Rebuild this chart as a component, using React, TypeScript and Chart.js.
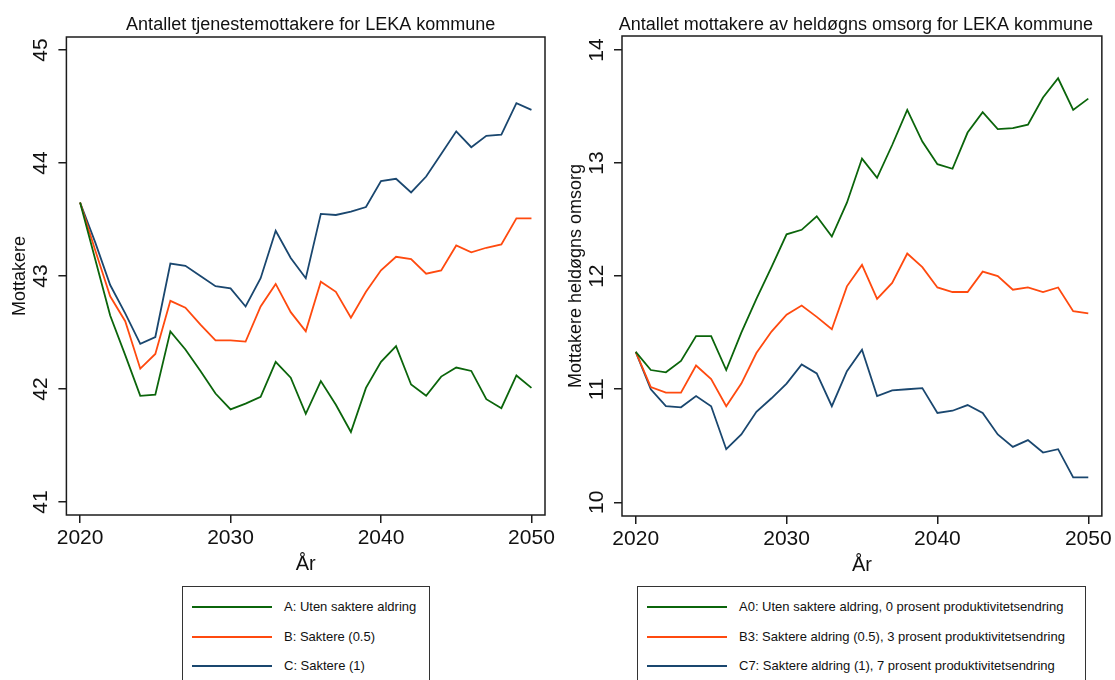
import React, { useEffect, useRef } from "react";
import { Chart, registerables } from "chart.js";

Chart.register(...registerables);

const FONT = "'Liberation Sans', Arial, Helvetica, sans-serif";

// ---------- data ----------
const years = [
  2020, 2021, 2022, 2023, 2024, 2025, 2026, 2027, 2028, 2029, 2030,
  2031, 2032, 2033, 2034, 2035, 2036, 2037, 2038, 2039, 2040,
  2041, 2042, 2043, 2044, 2045, 2046, 2047, 2048, 2049, 2050,
];
const xTicks = [2020, 2030, 2040, 2050];

// Left panel: Antallet tjenestemottakere
const leftYTicks = [41, 42, 43, 44, 45];
const seriesA = [
  43.65, 43.15, 42.65, 42.30, 41.94, 41.95, 42.51, 42.35, 42.16, 41.96, 41.82,
  41.87, 41.93, 42.24, 42.10, 41.78, 42.07, 41.86, 41.62, 42.01, 42.24,
  42.38, 42.04, 41.94, 42.11, 42.19, 42.16, 41.91, 41.83, 42.12, 42.01,
];
const seriesB = [
  43.65, 43.23, 42.82, 42.60, 42.18, 42.31, 42.78, 42.72, 42.57, 42.43, 42.43,
  42.42, 42.73, 42.93, 42.68, 42.51, 42.95, 42.86, 42.63, 42.86, 43.05,
  43.17, 43.15, 43.02, 43.05, 43.27, 43.21, 43.25, 43.28, 43.51, 43.51,
];
const seriesC = [
  43.65, 43.30, 42.92, 42.67, 42.40, 42.46, 43.11, 43.09, 43.00, 42.91, 42.89,
  42.73, 42.98, 43.40, 43.16, 42.98, 43.55, 43.54, 43.57, 43.61, 43.84,
  43.86, 43.74, 43.88, 44.08, 44.28, 44.14, 44.24, 44.25, 44.53, 44.47,
];
const leftLabels = ["A: Uten saktere aldring", "B: Saktere (0.5)", "C: Saktere (1)"];

// Right panel: heldøgns omsorg
const rightYTicks = [10, 11, 12, 13, 14];
const seriesA0 = [
  11.33, 11.17, 11.15, 11.25, 11.47, 11.47, 11.17, 11.50, 11.80, 12.08, 12.37,
  12.41, 12.53, 12.35, 12.65, 13.04, 12.87, 13.16, 13.47, 13.19, 12.99,
  12.95, 13.27, 13.45, 13.30, 13.31, 13.34, 13.58, 13.75, 13.47, 13.57,
];
const seriesB3 = [
  11.33, 11.02, 10.97, 10.97, 11.21, 11.09, 10.85, 11.05, 11.32, 11.51, 11.66,
  11.74, 11.64, 11.53, 11.91, 12.10, 11.80, 11.94, 12.20, 12.08, 11.90,
  11.86, 11.86, 12.04, 12.00, 11.88, 11.90, 11.86, 11.90, 11.69, 11.67,
];
const seriesC7 = [
  11.33, 11.00, 10.85, 10.84, 10.94, 10.85, 10.47, 10.60, 10.80, 10.92, 11.05,
  11.22, 11.14, 10.85, 11.16, 11.35, 10.94, 10.99, 11.00, 11.01, 10.79,
  10.81, 10.86, 10.79, 10.60, 10.49, 10.55, 10.44, 10.47, 10.22, 10.22,
];
const rightLabels = [
  "A0: Uten saktere aldring, 0 prosent produktivitetsendring",
  "B3: Saktere aldring (0.5), 3 prosent produktivitetsendring",
  "C7: Saktere aldring (1), 7 prosent produktivitetsendring",
];

const colors = ["#0b650b", "#ff4a0f", "#1a476f"];

// ---------- plugin: plot box, rotated y tick labels, title ----------
const decorPlugin = {
  id: "stataDecor",
  afterDraw(chart: any, _args: any, opts: any) {
    const { ctx, chartArea: a } = chart;
    ctx.save();
    ctx.strokeStyle = "#1c1c1c";
    ctx.lineWidth = 1.5;
    ctx.strokeRect(a.left, a.top, a.right - a.left, a.bottom - a.top);

    const ys = chart.scales.y;
    ctx.fillStyle = "#111";
    ctx.font = `21px ${FONT}`;
    ctx.textAlign = "center";
    ctx.textBaseline = "alphabetic";
    ys.ticks.forEach((t: any) => {
      const py = ys.getPixelForValue(t.value);
      ctx.save();
      ctx.translate(a.left - 19, py);
      ctx.rotate(-Math.PI / 2);
      ctx.fillText(String(t.value), 0, 0);
      ctx.restore();
    });

    ctx.font = `18px ${FONT}`;
    ctx.fillText(opts.title, (a.left + a.right) / 2 + opts.titleDx, opts.titleY);
    ctx.restore();
  },
};

type PanelProps = {
  left: number;
  width: number;
  height: number;
  padding: { top: number; right: number; bottom: number; left: number };
  yMin: number;
  yMax: number;
  yTicks: number[];
  series: number[][];
  labels: string[];
  yTitle: string;
  yTitlePad: { top: number; bottom: number };
  title: string;
  titleDx: number;
};

function Panel(p: PanelProps) {
  const ref = useRef<HTMLCanvasElement>(null);
  useEffect(() => {
    if (!ref.current) return;
    const chart = new Chart(ref.current, {
      type: "line",
      data: {
        datasets: p.series.map((s, i) => ({
          label: p.labels[i],
          data: years.map((x, j) => ({ x, y: s[j] })),
          borderColor: colors[i],
          backgroundColor: colors[i],
          borderWidth: 1.8,
          pointRadius: 0,
          tension: 0,
        })),
      },
      options: {
        responsive: false,
        animation: false,
        layout: { padding: p.padding },
        plugins: {
          legend: { display: false },
          title: { display: false },
          tooltip: { enabled: false },
          stataDecor: { title: p.title, titleDx: p.titleDx, titleY: 30 },
        } as any,
        scales: {
          x: {
            type: "linear",
            min: 2019.09,
            max: 2050.9,
            afterBuildTicks: (scale: any) => {
              scale.ticks = xTicks.map((v) => ({ value: v }));
            },
            border: { display: false },
            grid: {
              display: true,
              drawOnChartArea: false,
              drawTicks: true,
              tickLength: 8,
              color: "#1c1c1c",
              lineWidth: 1.5,
            },
            ticks: {
              color: "#111",
              font: { family: FONT, size: 21, lineHeight: 1.2 },
              padding: 3,
              maxRotation: 0,
              minRotation: 0,
              callback: (v: any) => String(v),
            },
            title: {
              display: true,
              text: "År",
              color: "#111",
              font: { family: FONT, size: 20, lineHeight: 1 },
              padding: { top: 0, bottom: 3 },
            },
          },
          y: {
            type: "linear",
            min: p.yMin,
            max: p.yMax,
            afterBuildTicks: (scale: any) => {
              scale.ticks = p.yTicks.map((v) => ({ value: v }));
            },
            border: { display: false },
            grid: {
              display: true,
              drawOnChartArea: false,
              drawTicks: true,
              tickLength: 8,
              color: "#1c1c1c",
              lineWidth: 1.5,
            },
            ticks: { display: false },
            title: {
              display: true,
              text: p.yTitle,
              color: "#111",
              font: { family: FONT, size: 18, lineHeight: 1.2 },
              padding: p.yTitlePad,
            },
          },
        },
      },
      plugins: [decorPlugin],
    });
    return () => chart.destroy();
  }, []);
  return (
    <canvas
      ref={ref}
      width={p.width}
      height={p.height}
      style={{ position: "absolute", left: p.left, top: 0, width: p.width, height: p.height }}
    />
  );
}

function Legend(props: { left: number; width: number; lineLeft: number; textLeft: number; labels: string[] }) {
  const rowY = [20, 50, 79];
  return (
    <div
      style={{
        position: "absolute",
        left: props.left,
        top: 586,
        width: props.width,
        height: 130,
        border: "1px solid #333",
        boxSizing: "border-box",
        background: "#fff",
        fontFamily: FONT,
        fontSize: 13,
        color: "#111",
      }}
    >
      {props.labels.map((lab, i) => (
        <React.Fragment key={i}>
          <div
            style={{
              position: "absolute",
              left: props.lineLeft,
              top: rowY[i] - 1,
              width: 80,
              height: 2,
              background: colors[i],
            }}
          />
          <div
            style={{
              position: "absolute",
              left: props.textLeft,
              top: rowY[i] - 9,
              lineHeight: "18px",
              whiteSpace: "nowrap",
            }}
          >
            {lab}
          </div>
        </React.Fragment>
      ))}
    </div>
  );
}

export default function App() {
  return (
    <div
      style={{
        position: "fixed",
        left: 0,
        top: 0,
        width: 1115,
        height: 680,
        overflow: "hidden",
        background: "#fff",
      }}
    >
      <Panel
        left={0}
        width={560}
        height={600}
        padding={{ top: 37, right: 15, bottom: 22.8, left: 0 }}
        yMin={40.885}
        yMax={45.115}
        yTicks={leftYTicks}
        series={[seriesA, seriesB, seriesC]}
        labels={leftLabels}
        yTitle="Mottakere"
        yTitlePad={{ top: 9.4, bottom: 27.4 }}
        title="Antallet tjenestemottakere for LEKA kommune"
        titleDx={5}
      />
      <Panel
        left={560}
        width={555}
        height={600}
        padding={{ top: 36, right: 13, bottom: 21.8, left: 0 }}
        yMin={9.879}
        yMax={14.124}
        yTicks={rightYTicks}
        series={[seriesA0, seriesB3, seriesC7]}
        labels={rightLabels}
        yTitle="Mottakere heldøgns omsorg"
        yTitlePad={{ top: 4.9, bottom: 27.5 }}
        title="Antallet mottakere av heldøgns omsorg for LEKA kommune"
        titleDx={-6}
      />
      <Legend left={182} width={248} lineLeft={9} textLeft={101} labels={leftLabels} />
      <Legend left={637} width={449} lineLeft={9} textLeft={101} labels={rightLabels} />
    </div>
  );
}
